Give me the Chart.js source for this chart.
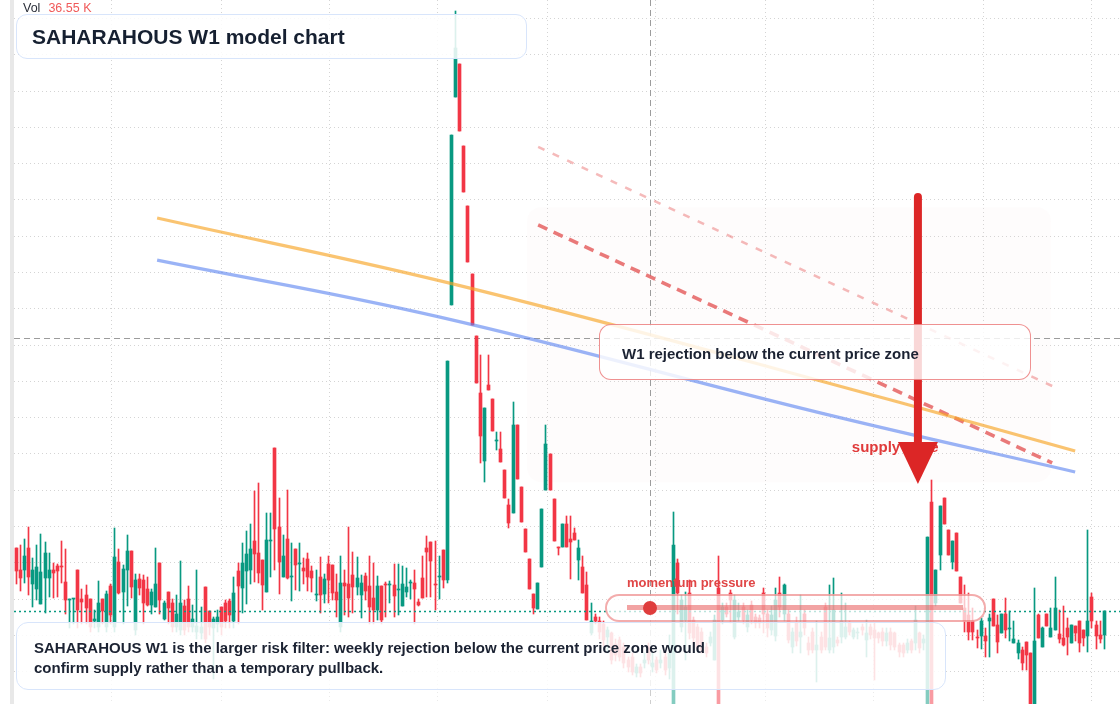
<!DOCTYPE html>
<html>
<head>
<meta charset="utf-8">
<title>SAHARAHOUS W1 model chart</title>
<script src="https://cdn.jsdelivr.net/npm/chart.js@4.4.1/dist/chart.umd.min.js"></script>
<style>
  html, body { margin: 0; padding: 0; background: #ffffff; }
  #stage { position: relative; width: 1120px; height: 704px; overflow: hidden; background: #fff;
           font-family: "Liberation Sans", Arial, Helvetica, sans-serif; }
  #scaleStrip { position: absolute; left: 10px; top: 0; width: 4px; height: 704px; background: #e8e8e8; }
  #plot { position: absolute; left: 14px; top: 0; }
  .card { position: absolute; box-sizing: border-box; }
  .txt { position: absolute; white-space: nowrap; font-weight: bold; }
  #titleCard { left: 16px; top: 14px; width: 511px; height: 45px; border-radius: 11px;
               background: rgba(255,255,255,0.86); border: 1.5px solid #d8e5fb; }
  #titleText { left: 32px; top: 26px; font-size: 21px; line-height: 21px; color: #162031; }
  #volLegend { position: absolute; left: 23px; top: 1px; font-size: 12.5px; line-height: 14px; color: #2a2e39; }
  #volLegend span { color: #f05a5a; margin-left: 8px; }
  #rejectCard { left: 599px; top: 324px; width: 432px; height: 56px; border-radius: 12px;
                background: rgba(255,255,255,0.82); border: 1.2px solid rgba(228,72,72,0.6); }
  #rejectText { left: 622px; top: 344px; font-size: 15px; line-height: 20px; color: #1b2232; }
  #momentumLabel { left: 627px; top: 575px; font-size: 13px; line-height: 16px; color: #e04646; }
  #pill { left: 605px; top: 594px; width: 381px; height: 28px; border-radius: 14px;
          background: rgba(255,255,255,0.72); border: 2px solid rgba(232,90,90,0.5); }
  #pillTrack { position: absolute; left: 627px; top: 605px; width: 336px; height: 5px;
               background: rgba(232,88,88,0.55); }
  #pillDot { position: absolute; left: 643px; top: 600.5px; width: 14px; height: 14px; border-radius: 50%;
             background: #df3d3d; }
  #noteCard { left: 16px; top: 622px; width: 930px; height: 68px; border-radius: 12px;
              background: rgba(255,255,255,0.86); border: 1.5px solid #d8e5fb; }
  #noteFade { left: 16px; top: 690px; width: 930px; height: 14px; background: rgba(255,255,255,0.5); }
  #noteText { left: 34px; top: 638px; font-size: 15px; line-height: 20px; color: #1b2232; }
</style>
</head>
<body>
<div id="stage">
  <div id="scaleStrip"></div>
  <canvas id="plot" width="1106" height="704"></canvas>

  <div id="volLegend">Vol<span>36.55 K</span></div>
  <div class="card" id="titleCard"></div>
  <div class="txt" id="titleText">SAHARAHOUS W1 model chart</div>

  <div class="card" id="rejectCard"></div>
  <div class="txt" id="rejectText">W1 rejection below the current price zone</div>

  <div class="txt" id="momentumLabel">momentum pressure</div>
  <div class="card" id="pill"></div>
  <div id="pillTrack"></div>
  <div id="pillDot"></div>

  <div class="card" id="noteCard"></div>
  <div class="card" id="noteFade"></div>
  <div class="txt" id="noteText">SAHARAHOUS W1 is the larger risk filter: weekly rejection below the current price zone would<br>confirm supply rather than a temporary pullback.</div>
</div>

<script>
// weekly candles, index = bar number on screen
const opens = [
  61.41,60.80,60.80,61.41,60.40,60.28,59.87,60.59,60.59,60.80,
  60.91,60.91,60.47,59.98,59.99,60.80,60.00,60.11,60.00,59.38,
  59.24,60.00,59.24,60.37,59.24,61.02,60.20,60.80,61.32,59.15,
  60.55,60.52,60.28,59.84,59.79,60.99,59.46,60.19,59.89,59.24,
  59.15,59.82,60.00,59.24,59.10,59.07,60.33,59.67,59.20,59.30,
  59.78,59.90,59.95,
  59.38,60.77,60.31,60.78,60.81,61.60,61.27,
  61.07,60.20,61.59,64.16,61.98,60.62,61.65,60.62,61.38,60.96,
  60.85,61.10,60.77,60.10,60.62,60.15,60.96,60.94,60.20,59.24,
  60.43,60.40,60.66,60.34,60.12,60.63,60.37,60.02,59.71,60.37,
  60.40,60.38,60.39,60.26,59.82,60.20,60.45,60.43,59.92,60.58,
  61.41,61.57,60.40,60.61,61.35,
  60.52,68.10,73.84,74.75,72.49,
  70.83,68.96,67.25,65.67,63.80,65.90,65.51,64.35,64.13,63.56,
  62.59,62.38,64.80,63.09,61.93,61.10,60.14,59.73,60.89,63.00,
  64.00,62.76,61.43,61.42,62.07,61.66,61.81,61.08,60.89,60.39,
  59.05,59.51,
  59.40,59.31,58.96,59.05,58.75,58.87,58.69,58.32,
  58.41,57.95,58.13,58.23,58.69,58.13,58.32,58.23,58.41,58.10,
  56.90,60.98,59.24,59.42,60.16,59.42,59.24,59.10,58.69,58.78,
  58.32,60.30,59.42,59.79,60.16,58.96,59.51,59.79,59.24,59.83,
  59.51,59.47,
  60.16,59.60,59.15,58.98,60.16,59.60,59.60,58.69,
  59.33,58.96,59.60,58.78,59.10,58.59,58.96,59.79,58.59,58.69,
  58.87,58.96,58.96,59.33,58.96,59.05,59.24,58.87,59.24,59.15,
  59.05,59.10,58.83,59.10,59.05,58.74,58.74,58.60,58.83,58.78,
  59.05,58.80,
  56.70,62.68,59.90,61.21,62.79,61.90,61.03,61.81,60.62,59.74,
  59.56,59.38,58.95,58.99,58.98,59.38,59.99,59.28,59.05,59.59,
  59.18,58.78,58.50,58.59,58.82,58.50,57.10,59.56,58.69,59.59,
  58.96,59.15,59.04,58.92,59.19,58.78,59.26,59.38,59.15,58.99,
  60.06,59.29,59.01,59.01
];
const highs = [
  61.41,61.48,61.65,61.98,61.13,61.48,61.79,61.57,61.27,60.99,
  60.96,61.60,61.38,60.00,60.01,60.80,60.28,60.39,60.00,59.70,
  60.50,60.00,60.22,60.40,61.96,61.38,60.94,61.76,61.32,60.69,
  60.70,60.66,60.61,60.28,61.41,60.99,59.95,60.19,60.00,60.12,
  61.05,59.98,60.36,59.84,60.80,59.79,60.33,59.67,59.51,59.70,
  59.78,59.97,60.01,
  60.60,60.98,61.54,61.87,62.07,62.99,63.21,
  61.07,62.38,62.38,64.16,62.78,61.76,63.00,61.54,61.38,61.54,
  61.13,61.27,60.91,60.80,61.16,60.70,61.19,60.94,60.69,61.19,
  60.80,61.98,61.30,61.16,60.66,60.72,61.19,60.99,60.63,60.37,
  60.47,60.50,60.96,60.96,60.91,60.85,60.52,60.80,59.99,61.19,
  61.74,61.57,61.60,61.19,61.35,
  66.56,72.79,76.21,74.75,72.49,
  70.83,68.96,67.25,66.73,65.26,66.73,65.51,64.60,64.60,63.56,
  62.77,65.43,64.80,63.09,61.93,61.10,60.14,60.44,62.48,64.80,
  64.00,62.76,61.43,62.07,62.29,62.29,61.96,61.63,61.19,60.75,
  59.88,59.59,
  59.50,59.40,59.24,59.10,58.90,58.96,58.80,58.40,
  58.50,58.20,58.20,58.50,58.80,58.50,58.40,58.60,58.50,59.00,
  62.40,61.10,60.10,60.20,60.52,59.50,59.30,59.20,58.80,59.10,
  59.56,61.19,59.90,59.90,60.25,60.10,59.90,59.90,59.70,59.95,
  59.60,59.55,
  60.30,59.70,59.80,60.29,60.61,60.40,59.70,59.20,
  59.50,60.11,59.70,58.96,59.20,59.38,59.10,59.90,60.39,60.57,
  58.96,60.16,59.90,59.40,59.20,59.20,59.30,59.42,59.30,59.33,
  59.10,59.20,59.20,59.20,59.10,58.80,58.80,58.90,58.90,59.80,
  59.10,59.00,
  61.72,63.28,60.80,62.56,62.79,61.90,61.60,61.81,60.62,60.39,
  60.16,59.74,59.15,59.47,59.19,59.60,59.99,59.56,59.59,60.02,
  59.67,59.39,58.87,58.68,58.82,58.50,60.29,59.59,59.23,59.59,
  59.74,60.62,59.70,59.81,59.47,59.28,59.26,59.38,59.15,61.90,
  60.16,59.40,59.40,59.67
];
const lows = [
  60.40,60.23,60.45,60.12,59.79,59.97,59.87,59.62,60.06,60.04,
  60.06,60.45,59.60,59.20,59.30,59.20,59.30,59.30,59.10,59.20,
  59.10,59.30,59.10,59.30,59.10,60.14,59.30,59.82,60.04,59.00,
  60.10,59.30,59.82,59.60,59.79,59.60,59.43,59.30,59.10,59.10,
  59.00,59.00,59.10,59.10,58.90,58.90,58.80,59.00,57.80,59.10,
  59.00,59.20,59.20,
  59.20,59.30,59.62,59.86,60.41,60.47,60.45,
  59.70,60.20,60.62,60.80,60.14,60.62,60.56,59.95,60.26,60.23,
  60.42,60.23,60.20,59.95,59.62,59.90,59.90,59.97,59.51,59.10,
  59.57,59.51,59.62,60.12,59.49,59.97,59.30,59.30,59.43,59.30,
  59.51,59.90,59.51,59.57,59.82,60.06,60.01,59.30,59.82,60.02,
  60.06,60.06,59.70,60.01,60.31,
  60.44,68.10,73.84,72.90,71.22,
  69.29,67.55,65.95,63.74,63.23,65.76,64.63,64.11,63.78,62.79,
  61.96,62.38,63.31,62.13,61.29,60.28,59.60,59.73,60.89,63.00,
  63.00,61.61,61.21,61.42,61.42,60.54,61.63,60.51,60.16,59.42,
  59.00,59.30,
  58.90,58.70,58.50,58.20,58.30,58.30,58.10,58.00,
  57.90,57.85,57.85,58.10,58.20,58.00,57.95,58.10,57.90,57.80,
  56.80,59.60,59.10,58.32,58.90,58.80,58.60,58.50,58.40,58.70,
  58.32,56.80,59.30,59.50,59.33,58.90,59.40,59.30,59.10,59.30,
  59.20,59.20,
  59.05,58.95,59.00,58.83,59.50,59.40,58.80,58.50,
  58.70,58.50,59.00,58.46,58.50,57.70,58.50,58.60,58.50,58.50,
  58.70,58.80,58.90,59.00,58.90,58.90,59.00,58.40,58.90,57.77,
  58.80,58.70,58.70,58.60,58.60,58.40,58.40,58.50,58.50,58.60,
  58.50,58.60,
  56.50,56.80,59.80,60.80,62.08,61.21,60.83,60.78,59.88,59.10,
  58.87,58.87,58.64,58.61,58.41,58.41,59.26,58.50,59.05,58.93,
  58.84,58.78,58.36,58.04,58.04,57.00,57.00,58.92,58.69,59.26,
  58.96,59.15,58.78,58.70,58.47,58.78,58.83,58.55,58.70,58.53,
  59.19,58.61,58.78,58.61
];
const closes = [
  60.78,60.59,61.19,60.62,60.80,60.88,60.74,61.27,60.80,60.73,
  60.78,60.88,59.98,60.00,60.01,59.71,59.92,59.76,59.24,59.45,
  59.89,59.67,60.14,59.57,61.16,60.17,60.83,61.32,60.34,60.52,
  60.30,59.90,59.84,60.19,60.41,59.98,59.90,59.76,59.24,59.60,
  59.89,59.15,59.24,59.45,59.25,59.24,58.90,59.24,59.45,59.50,
  59.24,59.40,59.55,
  60.17,60.37,60.98,61.24,61.38,61.25,60.73,
  60.39,61.63,61.63,61.94,61.02,61.19,60.59,60.63,60.95,60.98,
  60.78,60.62,60.59,60.12,60.12,60.55,60.53,60.17,59.98,60.43,
  60.37,60.04,60.34,60.58,60.43,60.23,59.79,59.71,60.37,59.42,
  60.38,60.40,60.09,60.28,60.41,60.33,60.47,60.28,59.84,60.04,
  61.30,61.06,60.38,60.63,60.53,
  66.56,72.79,75.19,72.90,71.22,
  69.29,67.55,65.95,64.49,65.26,65.76,64.63,64.37,63.78,62.79,
  62.10,64.80,63.31,62.13,61.29,60.28,59.74,60.44,62.48,64.27,
  63.00,61.61,61.41,62.07,61.42,61.58,61.63,61.41,60.16,59.42,
  59.38,59.38,
  59.10,58.87,59.15,58.32,58.45,58.41,58.23,58.13,
  58.00,58.13,57.95,58.32,58.32,58.23,58.04,58.32,58.04,58.50,
  61.49,60.16,59.97,59.79,59.05,58.92,58.69,58.59,58.50,58.96,
  59.42,56.90,59.79,59.60,59.97,59.97,59.65,59.42,59.56,59.42,
  59.33,59.33,
  59.60,59.19,59.55,59.97,59.79,60.39,58.87,59.10,
  58.83,59.10,59.19,58.59,58.59,58.73,58.59,58.69,58.92,59.70,
  58.78,59.38,59.24,59.10,59.15,59.07,59.15,59.05,59.01,58.92,
  58.92,58.83,59.05,58.74,58.69,58.55,58.50,58.78,58.60,59.42,
  58.64,58.90,
  61.72,56.90,60.80,62.56,62.08,61.21,61.60,60.78,59.88,59.38,
  59.10,59.10,58.93,59.39,58.84,59.47,59.26,58.82,59.59,59.15,
  59.20,58.90,58.78,58.23,58.46,57.10,58.84,58.92,59.19,59.26,
  59.19,59.74,58.90,58.73,58.96,59.28,59.07,58.80,58.93,59.39,
  59.38,58.97,58.89,59.67
];

// drawn curves and channel (bar index / price)
const fastCurveWeeks = [34.3, 110.5, 212.8, 257.9];
const fastCurvePrices = [70.50, 68.57, 65.49, 64.08];
const slowCurveWeeks = [34.3, 103.2, 195.8, 257.9];
const slowCurvePrices = [69.34, 67.77, 65.13, 63.50];
const channelWeeks = [127.1, 252.3];
const channelUpper = [72.46, 65.87];
const channelLower = [70.31, 63.75];

// supply zone box, arrow, label, crosshair
const zoneWeeks = [124.4, 252.0];
const zonePrices = [70.80, 63.22];
const arrowWeek = 219.6;
const arrowPrices = [71.08, 64.33, 63.17]; // shaft top, head base, tip
const supplyLabel = { week: 203.5, price: 64.04, text: 'supply zone' };
const crosshairWeek = 154.35;
const crosshairPrice = 67.19;

// axis range and grid
const weekRange = [-0.56, 268.82];
const priceRange = [57.106, 76.51];
const weekTicks = [23.3, 49.9, 76.4, 102.7, 129.3, 155.8, 182.4, 208.9, 235.5, 262.0];
const priceTicks = [58, 59, 60, 61, 62, 63, 64, 65, 66, 67, 68, 69, 70, 71, 72, 73, 74, 75, 76];

const UP = '#089981';
const DOWN = '#f23645';

const candleColors = closes.map((c, i) => (c >= opens[i] ? UP : DOWN));

const markupPlugin = {
    id: 'markup',
    beforeDatasetsDraw(chart) {
        const { ctx, chartArea: area, scales: { x, y } } = chart;

        // snap candle bars to whole pixels so bodies and wicks stay crisp
        chart.data.datasets.forEach((ds, i) => {
            if (ds.type === 'line') return;
            chart.getDatasetMeta(i).data.forEach(el => {
                el.x = Math.round(el.x - 0.5) + 0.5;
                el.y = Math.round(el.y);
                el.base = Math.round(el.base);
            });
        });

        ctx.save();
        // faint zone
        const zx1 = x.getPixelForValue(zoneWeeks[0]);
        const zx2 = x.getPixelForValue(zoneWeeks[1]);
        const zy1 = y.getPixelForValue(zonePrices[0]);
        const zy2 = y.getPixelForValue(zonePrices[1]);
        ctx.fillStyle = 'rgba(238, 218, 206, 0.07)';
        ctx.beginPath();
        ctx.roundRect(zx1, zy1, zx2 - zx1, zy2 - zy1, 14);
        ctx.fill();
        // crosshair
        ctx.strokeStyle = '#9c9c9c';
        ctx.lineWidth = 1;
        ctx.setLineDash([6, 4]);
        const cx = Math.round(x.getPixelForValue(crosshairWeek)) + 0.5;
        const cy = Math.round(y.getPixelForValue(crosshairPrice)) + 0.5;
        ctx.beginPath();
        ctx.moveTo(area.left, cy); ctx.lineTo(area.right, cy);
        ctx.moveTo(cx, area.top); ctx.lineTo(cx, area.bottom);
        ctx.stroke();
        ctx.restore();
    },
    afterDatasetsDraw(chart) {
        const { ctx, chartArea: area, scales: { x, y } } = chart;
        ctx.save();
        // last price line
        const lp = Math.round(y.getPixelForValue(closes[closes.length - 1])) + 0.5;
        ctx.strokeStyle = UP;
        ctx.lineWidth = 1.5;
        ctx.setLineDash([2, 3]);
        ctx.beginPath();
        ctx.moveTo(area.left, lp); ctx.lineTo(area.right, lp);
        ctx.stroke();
        ctx.setLineDash([]);

        // label sits under the arrow head
        ctx.font = 'bold 15px "Liberation Sans", Arial, sans-serif';
        ctx.fillStyle = '#e03a3a';
        ctx.textBaseline = 'alphabetic';
        ctx.fillText(supplyLabel.text, x.getPixelForValue(supplyLabel.week), y.getPixelForValue(supplyLabel.price));

        // arrow
        const ax = x.getPixelForValue(arrowWeek);
        const aTop = y.getPixelForValue(arrowPrices[0]);
        const aBase = y.getPixelForValue(arrowPrices[1]);
        const aTip = y.getPixelForValue(arrowPrices[2]);
        ctx.strokeStyle = '#dc2626';
        ctx.fillStyle = '#dc2626';
        ctx.lineWidth = 8;
        ctx.lineCap = 'round';
        ctx.beginPath();
        ctx.moveTo(ax, aTop); ctx.lineTo(ax, aBase + 4);
        ctx.stroke();
        ctx.beginPath();
        ctx.moveTo(ax - 20, aBase);
        ctx.lineTo(ax + 20, aBase);
        ctx.lineTo(ax, aTip);
        ctx.closePath();
        ctx.fill();
        ctx.restore();
    }
};

function initChart() {
    const ctx = document.getElementById('plot').getContext('2d');

    const wicks = opens.map((o, i) => ({
        x: i,
        y: [Math.min(lows[i], o, closes[i]), Math.max(highs[i], o, closes[i])]
    }));
    const bodies = opens.map((o, i) => ({ x: i, y: [o, closes[i]] }));
    const pts = (ws, ps) => ws.map((w, i) => ({ x: w, y: ps[i] }));

    const gridOpts = { color: '#d4d4d4', lineWidth: 1, drawTicks: false, offset: false };

    new Chart(ctx, {
        type: 'bar',
        data: {
            datasets: [
                {
                    type: 'line', label: 'fast curve', data: pts(fastCurveWeeks, fastCurvePrices),
                    borderColor: 'rgba(247,166,40,0.66)', borderWidth: 3.2, pointRadius: 0,
                    tension: 0.4, order: 0
                },
                {
                    type: 'line', label: 'slow curve', data: pts(slowCurveWeeks, slowCurvePrices),
                    borderColor: 'rgba(92,132,240,0.62)', borderWidth: 3.2, pointRadius: 0,
                    tension: 0.4, order: 0
                },
                {
                    type: 'line', label: 'channel upper', data: pts(channelWeeks, channelUpper),
                    borderColor: 'rgba(232,90,90,0.42)', borderWidth: 2.6, borderDash: [7, 9],
                    pointRadius: 0, order: 0
                },
                {
                    type: 'line', label: 'channel lower', data: pts(channelWeeks, channelLower),
                    borderColor: 'rgba(228,84,84,0.78)', borderWidth: 3.6, borderDash: [10, 7],
                    pointRadius: 0, order: 0
                },
                {
                    label: 'body', data: bodies, backgroundColor: candleColors,
                    barThickness: 3, minBarLength: 1, grouped: false, borderWidth: 0, order: 1
                },
                {
                    label: 'wick', data: wicks, backgroundColor: candleColors,
                    barThickness: 1, grouped: false, borderWidth: 0, order: 2
                }
            ]
        },
        options: {
            responsive: false,
            animation: false,
            layout: { padding: 0 },
            plugins: { legend: { display: false }, tooltip: { enabled: false } },
            scales: {
                x: {
                    type: 'linear', min: weekRange[0], max: weekRange[1], offset: false,
                    grid: gridOpts,
                    border: { display: false, dash: [1, 3] },
                    ticks: { display: false },
                    afterBuildTicks: (scale) => { scale.ticks = weekTicks.map(v => ({ value: v })); }
                },
                y: {
                    type: 'linear', position: 'right', min: priceRange[0], max: priceRange[1],
                    grid: gridOpts,
                    border: { display: false, dash: [1, 3] },
                    ticks: { display: false },
                    afterBuildTicks: (scale) => { scale.ticks = priceTicks.map(v => ({ value: v })); }
                }
            }
        },
        plugins: [markupPlugin]
    });
}

document.addEventListener('DOMContentLoaded', initChart);
</script>
</body>
</html>
